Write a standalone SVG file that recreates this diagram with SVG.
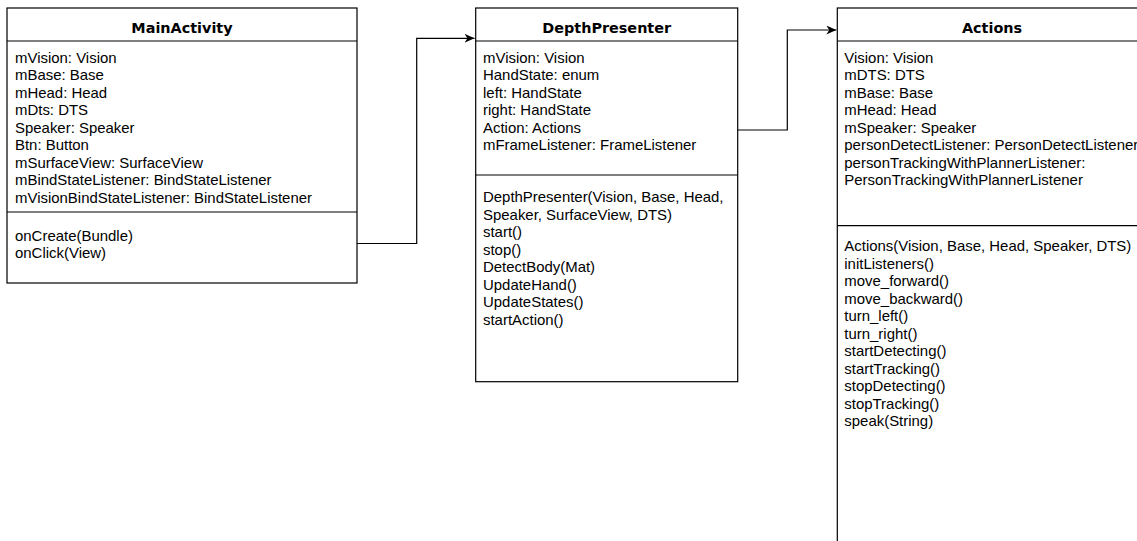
<svg xmlns="http://www.w3.org/2000/svg" width="1137" height="541" viewBox="0 0 1137 541">
<style>
.box{fill:#ffffff;stroke:#000000;stroke-width:1.2}
.sep{stroke:#000000;stroke-width:1.2;fill:none}
.title{font-family:"DejaVu Sans",Verdana,sans-serif;font-weight:bold;font-size:14.4px;text-anchor:middle;fill:#000}
.t{font-family:"Liberation Sans",Arial,sans-serif;font-size:14.95px;fill:#000}
.edge{fill:none;stroke:#000000;stroke-width:1.2}
</style>
<defs>
<marker id="arr" markerWidth="12" markerHeight="10" refX="10" refY="4.5" orient="auto" markerUnits="userSpaceOnUse">
<path d="M0,0 L10,4.5 L0,9 L3,4.5 z" fill="#000"/>
</marker>
</defs>
<rect width="1137" height="541" fill="#ffffff"/>
<g id="MainActivity">
<rect class="box" x="7" y="8" width="350" height="275"/>
<line class="sep" x1="7" y1="41" x2="357" y2="41"/>
<line class="sep" x1="7" y1="212" x2="357" y2="212"/>
<text class="title" x="182" y="33">MainActivity</text>
<text class="t" x="15" y="62.5">mVision: Vision</text>
<text class="t" x="15" y="80">mBase: Base</text>
<text class="t" x="15" y="97.5">mHead: Head</text>
<text class="t" x="15" y="115">mDts: DTS</text>
<text class="t" x="15" y="132.5">Speaker: Speaker</text>
<text class="t" x="15" y="150">Btn: Button</text>
<text class="t" x="15" y="167.5">mSurfaceView: SurfaceView</text>
<text class="t" x="15" y="185">mBindStateListener: BindStateListener</text>
<text class="t" x="15" y="202.5">mVisionBindStateListener: BindStateListener</text>
<text class="t" x="15" y="240.5">onCreate(Bundle)</text>
<text class="t" x="15" y="258">onClick(View)</text>
</g>
<g id="DepthPresenter">
<rect class="box" x="475.7" y="8" width="262" height="373.7"/>
<line class="sep" x1="475.7" y1="41" x2="737.7" y2="41"/>
<line class="sep" x1="475.7" y1="175" x2="737.7" y2="175"/>
<text class="title" x="606.7" y="33">DepthPresenter</text>
<text class="t" x="483" y="62.5">mVision: Vision</text>
<text class="t" x="483" y="80">HandState: enum</text>
<text class="t" x="483" y="97.5">left: HandState</text>
<text class="t" x="483" y="115">right: HandState</text>
<text class="t" x="483" y="132.5">Action: Actions</text>
<text class="t" x="483" y="150">mFrameListener: FrameListener</text>
<text class="t" x="483" y="202">DepthPresenter(Vision, Base, Head,</text>
<text class="t" x="483" y="219.5">Speaker, SurfaceView, DTS)</text>
<text class="t" x="483" y="237">start()</text>
<text class="t" x="483" y="254.5">stop()</text>
<text class="t" x="483" y="272">DetectBody(Mat)</text>
<text class="t" x="483" y="289.5">UpdateHand()</text>
<text class="t" x="483" y="307">UpdateStates()</text>
<text class="t" x="483" y="324.5">startAction()</text>
</g>
<g id="Actions">
<rect class="box" x="837.3" y="8" width="310" height="550"/>
<line class="sep" x1="837.3" y1="41" x2="1140" y2="41"/>
<line class="sep" x1="837.3" y1="225.7" x2="1140" y2="225.7"/>
<text class="title" x="992" y="33">Actions</text>
<text class="t" x="844.3" y="62.5">Vision: Vision</text>
<text class="t" x="844.3" y="80">mDTS: DTS</text>
<text class="t" x="844.3" y="97.5">mBase: Base</text>
<text class="t" x="844.3" y="115">mHead: Head</text>
<text class="t" x="844.3" y="132.5">mSpeaker: Speaker</text>
<text class="t" x="844.3" y="150">personDetectListener: PersonDetectListener</text>
<text class="t" x="844.3" y="167.5">personTrackingWithPlannerListener:</text>
<text class="t" x="844.3" y="185">PersonTrackingWithPlannerListener</text>
<text class="t" x="844.3" y="251">Actions(Vision, Base, Head, Speaker, DTS)</text>
<text class="t" x="844.3" y="268.5">initListeners()</text>
<text class="t" x="844.3" y="286">move_forward()</text>
<text class="t" x="844.3" y="303.5">move_backward()</text>
<text class="t" x="844.3" y="321">turn_left()</text>
<text class="t" x="844.3" y="338.5">turn_right()</text>
<text class="t" x="844.3" y="356">startDetecting()</text>
<text class="t" x="844.3" y="373.5">startTracking()</text>
<text class="t" x="844.3" y="391">stopDetecting()</text>
<text class="t" x="844.3" y="408.5">stopTracking()</text>
<text class="t" x="844.3" y="426">speak(String)</text>
</g>
<g id="connectors">
<path class="edge" d="M357,243.5 L416.7,243.5 L416.7,38.3 L474.5,38.3" marker-end="url(#arr)"/>
<path class="edge" d="M737.7,130 L787.3,130 L787.3,30 L836.3,30" marker-end="url(#arr)"/>
</g>
</svg>
